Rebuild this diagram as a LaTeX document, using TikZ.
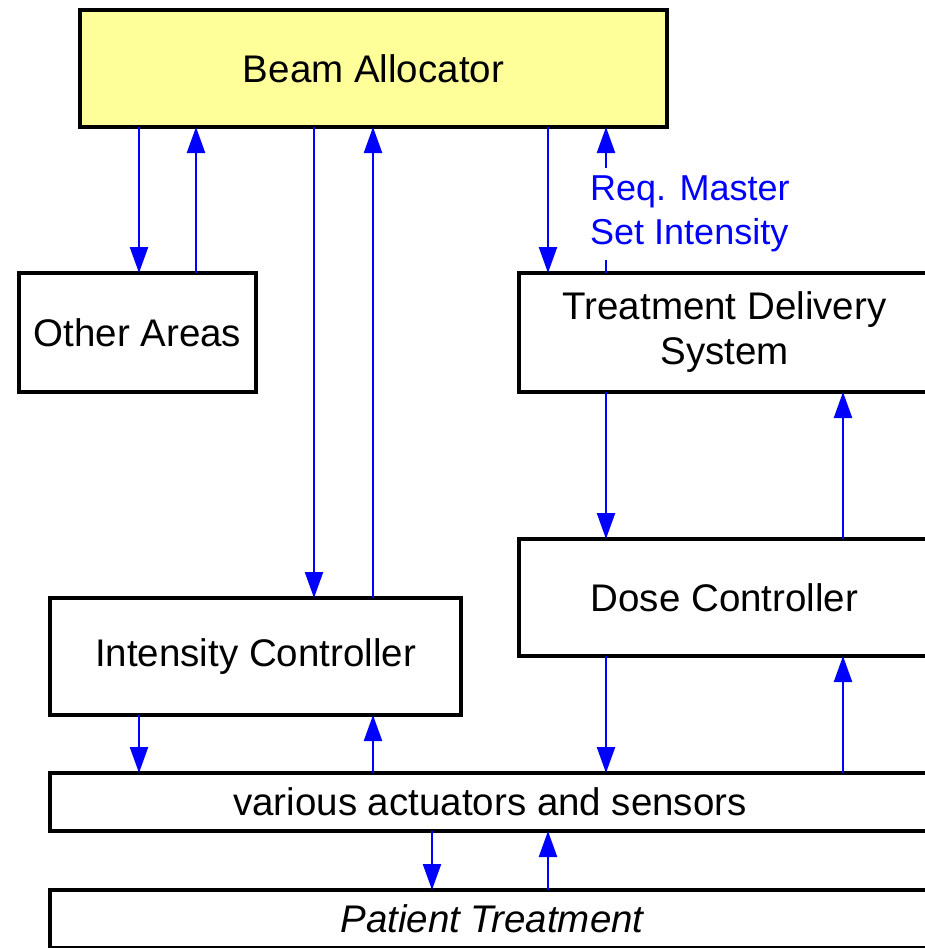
\documentclass[tikz,border=0pt]{standalone}
\usepackage{fontspec}
\setmainfont{Liberation Sans}
\usetikzlibrary{arrows.meta}
\definecolor{beamyellow}{HTML}{FFFF99}
\definecolor{arrblue}{HTML}{0000FF}
\tikzset{
  box/.style={draw=black, line width=4pt, fill=white, inner sep=0pt, outer sep=0pt,
    font=\fontsize{38.5}{45}\selectfont, align=center},
  arr/.style={draw=arrblue, line width=2.3pt, -{Triangle[length=26pt,width=18pt]}},
  plain/.style={draw=arrblue, line width=2.3pt},
  lbl/.style={text=arrblue, font=\fontsize{36}{44}\selectfont, align=left, inner xsep=0pt, inner ysep=8pt, anchor=west}
}
\begin{document}
\begin{tikzpicture}[x=1pt,y=-1pt]
\useasboundingbox (0,0) rectangle (925,948);
\clip (0,0) rectangle (925,948);
\node[box, fill=beamyellow, minimum width=587pt, minimum height=117pt] (beam) at (373.5,68.5) {Beam Allocator};
\node[box, minimum width=237pt, minimum height=119pt] (other) at (137.5,332.5) {Other Areas};
\node[box, minimum width=411pt, minimum height=119pt] (tds) at (724.5,332.5) {Treatment Delivery\\System};
\node[box, minimum width=411pt, minimum height=117pt] (dose) at (724.5,597.5) {Dose Controller};
\node[box, minimum width=411pt, minimum height=117pt] (ic) at (255.5,656.5) {Intensity Controller};
\node[box, minimum width=880pt, minimum height=58pt] (act) at (490,802) {various actuators and sensors};
\node[box, minimum width=884pt, minimum height=58pt] (pt) at (492,919) {\itshape Patient Treatment};
\node[lbl] (req) at (590,214) {Req. Master\\Set Intensity};
% Beam Allocator <-> Other Areas
\draw[arr] (beam.south -| 139,0) -- (other.north -| 139,0);
\draw[arr] (other.north -| 196,0) -- (beam.south -| 196,0);
% Beam Allocator <-> Intensity Controller
\draw[arr] (beam.south -| 314,0) -- (ic.north -| 314,0);
\draw[arr] (ic.north -| 373,0) -- (beam.south -| 373,0);
% Beam Allocator <-> Treatment Delivery System
\draw[arr] (beam.south -| 548,0) -- (tds.north -| 548,0);
\draw[plain] (tds.north -| 606,0) -- (req.south -| 606,0);
\draw[arr] (req.north -| 606,0) -- (beam.south -| 606,0);
% TDS <-> Dose Controller
\draw[arr] (tds.south -| 606,0) -- (dose.north -| 606,0);
\draw[arr] (dose.north -| 843,0) -- (tds.south -| 843,0);
% Intensity Controller <-> actuators
\draw[arr] (ic.south -| 139,0) -- (act.north -| 139,0);
\draw[arr] (act.north -| 373,0) -- (ic.south -| 373,0);
% Dose Controller <-> actuators
\draw[arr] (dose.south -| 606,0) -- (act.north -| 606,0);
\draw[arr] (act.north -| 843,0) -- (dose.south -| 843,0);
% actuators <-> Patient Treatment
\draw[arr] (act.south -| 432,0) -- (pt.north -| 432,0);
\draw[arr] (pt.north -| 548,0) -- (act.south -| 548,0);
\end{tikzpicture}
\end{document}
